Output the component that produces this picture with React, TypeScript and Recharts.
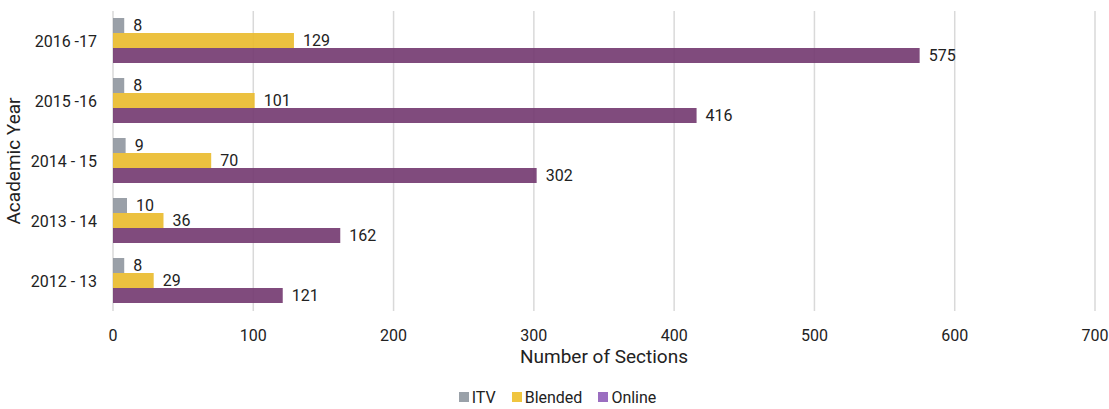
import React from 'react';
import { BarChart, Bar, XAxis, YAxis, CartesianGrid, Legend, LabelList } from 'recharts';

// 学年ごとのセクション数
const years = ['2016 -17', '2015 -16', '2014 - 15', '2013 - 14', '2012 - 13'];
const itv = [8, 8, 9, 10, 8];
const blended = [129, 101, 70, 36, 29];
const online = [575, 416, 302, 162, 121];
const xTicks = [0, 100, 200, 300, 400, 500, 600, 700];

const SERIES = [
  { key: 'itv', name: 'ITV', fill: '#8f969f', icon: '#9aa1a9' },
  { key: 'blended', name: 'Blended', fill: '#eaba2a', icon: '#f0c53f' },
  { key: 'online', name: 'Online', fill: '#72376f', icon: '#9b6ec0' },
];

const data = years.map((y, i) => ({
  year: y,
  itv: itv[i],
  blended: blended[i],
  online: online[i],
}));

const FONT = 'Roboto, "Noto Sans", sans-serif';
const TEXT = '#222';

const LegendContent = () => (
  <div
    style={{
      display: 'flex',
      justifyContent: 'center',
      gap: '16px',
      fontFamily: FONT,
      fontSize: 16,
      color: TEXT,
      paddingLeft: 20,
      height: 24,
      alignItems: 'center',
    }}
  >
    {SERIES.map(s => (
      <div key={s.key} style={{ display: 'flex', alignItems: 'center', gap: '3px' }}>
        <div style={{ width: 10, height: 10, background: s.icon }} />
        <span>{s.name}</span>
      </div>
    ))}
  </div>
);

export default function App() {
  return (
    <div style={{ width: 1109, height: 409, background: '#fff' }}>
      <style>{'body{margin:0}'}</style>
      <BarChart
        width={1109}
        height={409}
        data={data}
        layout="vertical"
        margin={{ top: 11, right: 14, left: 0, bottom: 0 }}
        barCategoryGap={7}
        barGap={0}
      >
        <CartesianGrid horizontal={false} stroke="#d9d9d9" strokeWidth={1.5} />
        <XAxis
          type="number"
          domain={[0, 700]}
          ticks={xTicks}
          interval={0}
          axisLine={false}
          tickLine={false}
          tickMargin={13}
          height={74}
          tick={{ fill: TEXT, fontSize: 16, fontFamily: FONT }}
          label={(props: any) => {
            const vb = props.viewBox;
            return (
              <text
                x={vb.x + vb.width / 2}
                y={vb.y + 52}
                textAnchor="middle"
                fill={TEXT}
                fontSize={19}
                fontFamily={FONT}
              >
                Number of Sections
              </text>
            );
          }}
        />
        <YAxis
          type="category"
          dataKey="year"
          width={113}
          axisLine={false}
          tickLine={false}
          tickMargin={10}
          tick={{ fill: TEXT, fontSize: 16, fontFamily: FONT }}
          label={(props: any) => {
            const vb = props.viewBox;
            const cy = vb.y + vb.height / 2;
            return (
              <text
                x={20}
                y={cy}
                transform={`rotate(-90, 20, ${cy})`}
                textAnchor="middle"
                fill={TEXT}
                fontSize={19}
                fontFamily={FONT}
              >
                Academic Year
              </text>
            );
          }}
        />
        <Legend
          verticalAlign="bottom"
          height={24}
          wrapperStyle={{ bottom: 0 }}
          content={<LegendContent />}
        />
        {SERIES.map(s => (
          <Bar
            key={s.key}
            dataKey={s.key}
            name={s.name}
            fill={s.fill}
            fillOpacity={0.9}
            isAnimationActive={false}
          >
            <LabelList
              dataKey={s.key}
              position="right"
              offset={9}
              fill={TEXT}
              fontSize={16}
              fontFamily={FONT}
            />
          </Bar>
        ))}
      </BarChart>
    </div>
  );
}
